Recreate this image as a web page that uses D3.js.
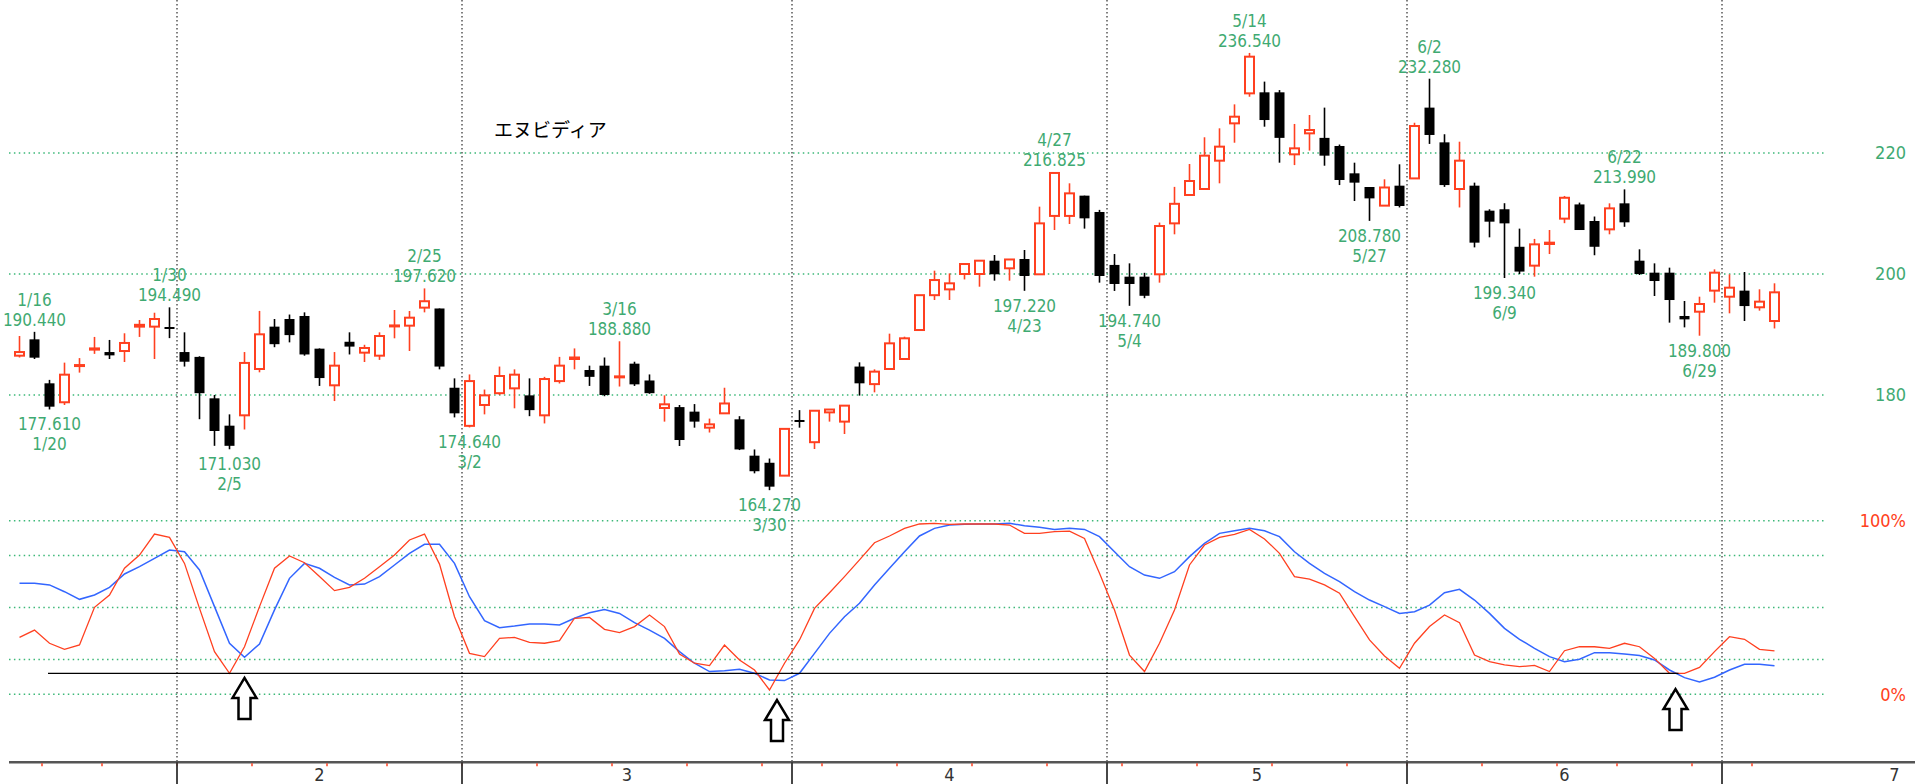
<!DOCTYPE html>
<meta charset="utf-8">
<head>
<script src="https://d3js.org/d3.v7.min.js"></script>
<style>
  body { margin: 0; background: #fff; }
  svg { display: block; }
  text { font-family: "DejaVu Sans Condensed", "DejaVu Sans", sans-serif; }
</style>
</head>
<body>
<div id="my_dataviz"></div>
<script>

// trading days shown (2026)
var dates = [
  "1/15","1/16","1/20","1/21","1/22","1/23","1/26","1/27","1/28","1/29","1/30",
  "2/2","2/3","2/4","2/5","2/6","2/9","2/10","2/11","2/12","2/13","2/17","2/18","2/19","2/20","2/23","2/24","2/25","2/26","2/27",
  "3/2","3/3","3/4","3/5","3/6","3/9","3/10","3/11","3/12","3/13","3/16","3/17","3/18","3/19","3/20","3/23","3/24","3/25","3/26","3/27","3/30","3/31",
  "4/1","4/2","4/6","4/7","4/8","4/9","4/10","4/13","4/14","4/15","4/16","4/17","4/20","4/21","4/22","4/23","4/24","4/27","4/28","4/29","4/30",
  "5/1","5/4","5/5","5/6","5/7","5/8","5/11","5/12","5/13","5/14","5/15","5/18","5/19","5/20","5/21","5/22","5/26","5/27","5/28","5/29",
  "6/1","6/2","6/3","6/4","6/5","6/8","6/9","6/10","6/11","6/12","6/15","6/16","6/17","6/18","6/22","6/23","6/24","6/25","6/26","6/29","6/30",
  "7/1","7/2","7/6","7/7"
];

var open = [
  186.5,189.2,181.93,178.8,184.8,187.5,187.1,187.27,191.3,191.3,191.24,
  187.1,186.3,179.45,174.93,176.64,184.3,191.3,192.56,193.06,187.66,181.6,188.8,187.0,186.5,191.4,191.46,194.44,194.3,181.2,
  174.9,178.35,180.3,181.1,179.94,176.64,182.3,185.95,184.13,184.85,182.97,185.18,182.4,177.85,178.0,177.25,174.6,176.97,175.98,169.97,168.8,166.67,
  175.87,172.2,177.13,175.6,184.7,181.8,184.3,185.95,190.74,196.5,197.46,200.0,200.0,202.2,200.94,202.48,199.95,209.6,209.6,212.95,210.25,
  201.5,199.56,199.56,199.95,208.37,213.06,214.05,218.73,224.9,229.86,230.03,230.03,219.78,223.25,222.5,221.16,216.64,214.38,211.3,214.6,
  215.8,227.5,221.76,214.05,214.6,210.47,210.7,204.5,201.38,204.96,209.15,211.5,208.76,207.38,211.68,202.2,200.22,200.22,193.06,193.77,197.25,
  196.25,197.25,194.5,192.23
];
var high = [
  189.75,190.44,182.5,185.35,186.1,189.6,189.1,190.2,192.4,193.6,194.49,
  190.36,186.4,180.0,176.8,187.1,193.9,192.56,193.3,193.66,187.7,187.1,190.36,188.3,190.36,194.05,193.88,197.62,194.3,182.75,
  183.4,180.9,184.7,184.24,182.75,183.0,186.3,187.7,184.85,186.2,188.88,185.5,183.4,179.94,178.35,178.5,176.1,181.2,176.5,171.0,169.5,174.5,
  177.5,177.4,177.6,178.24,185.4,184.24,190.14,189.64,196.5,200.55,200.1,201.65,202.2,203.14,202.4,203.97,211.13,216.825,214.99,212.95,210.6,
  203.3,201.76,200.2,208.5,214.4,218.18,222.6,224.08,228.04,236.54,231.8,230.4,224.8,226.28,227.5,221.4,218.4,214.38,215.65,218.13,
  225.0,232.28,223.1,221.87,215.1,210.7,211.7,207.5,205.8,207.27,212.9,211.8,209.5,211.68,213.99,204.08,201.76,201.05,195.54,196.25,200.77,
  199.94,200.33,197.47,198.46
];
var low = [
  186.2,185.95,177.61,178.35,183.7,186.8,185.95,185.45,189.6,185.95,189.4,
  184.7,176.0,171.6,171.03,174.3,183.75,187.9,188.7,186.5,181.5,179.0,186.7,185.45,185.8,189.37,187.27,193.66,184.24,176.3,
  174.64,176.8,180.0,177.8,176.5,175.3,181.9,184.24,181.5,179.8,181.4,181.5,180.2,175.6,171.57,174.6,173.8,176.86,170.9,167.05,164.27,166.6,
  174.6,171.07,175.6,173.55,179.9,180.44,184.3,185.8,190.74,195.7,195.7,199.1,197.9,198.9,198.9,197.22,199.9,207.27,208.26,207.5,198.57,
  197.2,194.74,196.0,198.57,206.56,213.06,214.0,214.99,221.7,229.3,224.35,218.4,218.0,220.4,217.9,214.7,212.07,208.78,211.3,211.0,
  215.8,221.5,214.4,211.0,204.4,206.06,199.34,200.0,199.56,203.3,208.4,207.27,203.1,206.56,207.8,199.83,196.36,191.96,191.18,189.8,195.26,
  193.5,192.23,193.94,191.0
];
var close = [
  187.1,186.17,178.07,183.36,184.95,187.7,186.55,188.6,191.6,192.56,191.0,
  185.5,180.3,174.05,171.6,185.3,190.03,188.4,189.9,186.7,182.8,184.85,188.0,187.77,189.75,191.5,192.78,195.5,184.7,176.97,
  182.3,179.94,183.14,183.36,177.5,182.64,184.85,186.2,183.0,180.0,183.08,181.76,180.3,178.46,172.56,175.6,175.15,178.6,171.0,167.4,164.85,174.4,
  175.7,177.4,177.6,178.24,181.93,183.86,188.54,189.37,196.5,199.0,198.46,201.65,202.2,199.95,202.4,199.67,208.37,216.7,213.33,209.2,199.67,
  198.35,198.35,196.4,207.93,211.6,215.37,219.56,221.05,226.0,235.92,225.45,222.5,220.77,223.8,219.56,215.54,215.1,212.5,214.3,211.24,
  224.46,222.98,214.7,218.73,205.18,208.65,208.37,200.4,204.9,205.18,212.6,207.27,204.5,210.85,208.54,200.0,198.84,195.7,192.5,195.04,200.22,
  197.74,194.7,195.43,196.97
];

// stochastics (%)
var stochK = [
  32.8,37.0,29.4,25.9,28.4,50.1,57.2,72.6,80.2,92.3,90.4,
  75.4,49.5,24.6,12.1,27.4,50.5,72.6,79.7,75.8,67.8,59.7,61.6,66.8,73.5,80.2,88.9,92.3,75.0,44.7,
  23.6,21.7,32.2,32.8,29.9,29.4,30.9,43.8,44.3,37.4,35.5,39.0,45.7,39.0,23.2,17.9,16.5,28.4,19.8,14.0,2.5,17.9,
  31.3,49.5,58.5,67.8,77.4,87.3,91.2,95.6,98.1,98.5,97.9,98.1,98.1,98.1,97.5,92.7,92.7,93.7,94.0,89.8,69.7,
  48.6,22.6,13.1,29.4,48.6,74.5,86.0,90.4,92.1,95.0,89.5,81.2,67.8,66.4,63.0,58.2,44.7,31.3,22.1,15.0,
  29.4,39.0,45.7,41.3,22.6,18.8,16.9,15.9,16.7,13.1,25.1,27.4,27.4,26.5,29.4,27.4,20.7,12.1,12.1,15.5,24.6,
  33.2,31.7,25.9,25.0
];
var stochD = [
  63.9,63.9,63.0,59.1,54.7,57.2,61.6,69.3,73.5,78.3,83.1,
  82.1,71.6,50.5,29.4,21.3,29.0,48.6,66.8,75.4,72.6,67.4,63.0,63.5,67.8,74.5,81.2,86.4,86.4,75.4,
  56.2,42.4,38.4,39.3,40.5,40.5,39.9,43.8,47.0,48.9,46.6,41.3,37.0,32.2,24.6,17.9,13.1,13.6,14.4,12.1,8.3,7.9,
  12.1,23.6,35.1,44.7,52.4,63.0,72.6,82.1,91.2,95.6,97.5,97.9,98.1,98.1,98.5,97.1,96.2,95.0,95.6,95.0,90.8,
  82.1,73.5,68.7,66.8,70.6,79.3,86.9,92.7,94.2,95.6,94.2,90.8,82.1,75.4,69.7,64.9,59.1,54.3,50.5,46.6,
  47.6,51.4,58.5,60.5,54.3,46.6,38.0,31.7,26.5,21.7,18.8,20.2,24.0,24.0,23.2,22.3,19.8,14.0,9.6,7.1,9.8,
  14.0,17.3,17.3,16.5
];

var highMarks = [1, 10, 27, 40, 69, 82, 94, 107];
var lowMarks = [2, 14, 30, 50, 67, 74, 90, 99, 112];
var priceTicks = [180, 200, 220];
var oscGrid = [0, 20, 50, 80, 100];
var oscLabels = [0, 100];
var monthNames = ["2", "3", "4", "5", "6", "7"];
var monthDays = [19, 22, 21, 20, 21, 23];
var arrowAt = [15, 50.5, 110.4];
var arrowTop = [9.4, -3.3, 3.0];
var signalLevel = 12.1, signalFrom = 1.9, signalTo = 110.6;
var title = "エヌビディア";

var W = 1915, H = 784;
var green = "#3faa72", gridGreen = "#3cb878", red = "#ff4020", blue = "#3366ff";

var svg = d3.select("#my_dataviz").append("svg")
  .attr("width", W).attr("height", H)
  .style("background", "#fff");

// scales
var x = d3.scaleLinear().domain([0, dates.length - 1]).range([19.5, 19.5 + 15 * (dates.length - 1)]);
var y = d3.scaleLinear().domain([180, 220]).range([395, 153]);
var yo = d3.scaleLinear().domain([0, 100]).range([694.3, 520.7]);
var gridL = 9, gridR = 1826, axisY = 762.3;

// month / week boundaries
var parsed = dates.map(function(d) { var p = d.split("/"); return new Date(2026, +p[0] - 1, +p[1]); });
var monthStarts = [], weekStarts = [];
var wk = function(t) { return d3.timeMonday.floor(t).getTime(); };
parsed.forEach(function(d, i) {
  if (i == 0) return;
  var prev = parsed[i - 1];
  if (d.getMonth() != prev.getMonth()) monthStarts.push(i);
  if (wk(d) != wk(prev)) weekStarts.push(i);
});

// horizontal grid
svg.selectAll(".pgrid").data(priceTicks).enter().append("line")
  .attr("x1", gridL).attr("x2", gridR)
  .attr("y1", function(d) { return y(d); }).attr("y2", function(d) { return y(d); })
  .attr("stroke", gridGreen).attr("stroke-width", 1.5).attr("stroke-dasharray", "1.5,3.4");
svg.selectAll(".ogrid").data(oscGrid).enter().append("line")
  .attr("x1", gridL).attr("x2", gridR)
  .attr("y1", function(d) { return yo(d); }).attr("y2", function(d) { return yo(d); })
  .attr("stroke", gridGreen).attr("stroke-width", 1.5).attr("stroke-dasharray", "1.5,3.4");

// vertical month lines
svg.selectAll(".vgrid").data(monthStarts).enter().append("line")
  .attr("x1", function(d) { return x(d - 0.5); }).attr("x2", function(d) { return x(d - 0.5); })
  .attr("y1", 0).attr("y2", axisY)
  .attr("stroke", "#555").attr("stroke-width", 1.5).attr("stroke-dasharray", "1.5,2.5");

// price labels on the right
svg.selectAll(".plab").data(priceTicks).enter().append("text")
  .attr("x", 1906).attr("y", function(d) { return y(d); })
  .attr("dy", "0.36em").attr("text-anchor", "end")
  .attr("fill", green).style("font-size", "18px")
  .text(function(d) { return d; });
svg.selectAll(".olab").data(oscLabels).enter().append("text")
  .attr("x", 1906).attr("y", function(d) { return yo(d); })
  .attr("dy", "0.36em").attr("text-anchor", "end")
  .attr("fill", red).style("font-size", "18px")
  .text(function(d) { return d + "%"; });

// title
svg.append("text")
  .attr("x", 494).attr("y", 137)
  .style("font-family", "'Noto Sans CJK JP', sans-serif")
  .style("font-size", "19px").attr("fill", "#000")
  .text(title);

// candles
var idx = d3.range(dates.length);
var isUp = function(i) { return close[i] >= open[i]; };
var cg = svg.append("g");
cg.selectAll(".wick").data(idx).enter().append("line")
  .attr("x1", function(i) { return x(i); }).attr("x2", function(i) { return x(i); })
  .attr("y1", function(i) { return y(high[i]); }).attr("y2", function(i) { return y(low[i]); })
  .attr("stroke", function(i) { return isUp(i) ? red : "#000"; })
  .attr("stroke-width", 1.6);
cg.selectAll(".body").data(idx).enter().append("rect")
  .attr("x", function(i) { return x(i) - (isUp(i) ? 4.5 : 5); })
  .attr("width", function(i) { return isUp(i) ? 9 : 10; })
  .attr("y", function(i) { return y(Math.max(open[i], close[i])); })
  .attr("height", function(i) { return Math.max(isUp(i) ? 1 : 2, Math.abs(y(open[i]) - y(close[i]))); })
  .attr("fill", function(i) { return isUp(i) ? "#fff" : "#000"; })
  .attr("stroke", function(i) { return isUp(i) ? red : "none"; })
  .attr("stroke-width", 2);

// high / low annotations (date + price, stacked)
var fmt = d3.format(".3f");
function label(xp, yb, str) {
  svg.append("text").attr("x", xp).attr("y", yb)
    .attr("text-anchor", "middle").attr("fill", green)
    .style("font-size", "17px").text(str);
}
highMarks.forEach(function(i) {
  label(x(i), y(high[i]) - 6, fmt(high[i]));
  label(x(i), y(high[i]) - 26, dates[i]);
});
lowMarks.forEach(function(i) {
  label(x(i), y(low[i]) + 21, fmt(low[i]));
  label(x(i), y(low[i]) + 41, dates[i]);
});

// oscillator
var line = d3.line().x(function(d, i) { return x(i); }).y(function(d) { return yo(d); });
svg.append("path").datum(stochD).attr("d", line)
  .attr("fill", "none").attr("stroke", blue).attr("stroke-width", 1.5);
svg.append("path").datum(stochK).attr("d", line)
  .attr("fill", "none").attr("stroke", red).attr("stroke-width", 1.3);

svg.append("line")
  .attr("x1", x(signalFrom)).attr("x2", x(signalTo))
  .attr("y1", yo(signalLevel)).attr("y2", yo(signalLevel))
  .attr("stroke", "#000").attr("stroke-width", 1.3);

// arrows
svg.selectAll(".arrow").data(arrowAt).enter().append("path")
  .attr("transform", function(d, k) { return "translate(" + x(d) + "," + yo(arrowTop[k]) + ")"; })
  .attr("d", "M0,0 L12,20 L6,20 L6,41 L-6,41 L-6,20 L-12,20 Z")
  .attr("fill", "#fff").attr("stroke", "#000").attr("stroke-width", 2.5)
  .attr("stroke-linejoin", "miter");

// time axis
svg.append("line").attr("x1", gridL).attr("x2", W)
  .attr("y1", axisY).attr("y2", axisY)
  .attr("stroke", "#555").attr("stroke-width", 2.5);
svg.selectAll(".wtick").data(weekStarts).enter().append("line")
  .attr("x1", function(d) { return x(d - 0.5); }).attr("x2", function(d) { return x(d - 0.5); })
  .attr("y1", axisY + 1).attr("y2", axisY + 4)
  .attr("stroke", red).attr("stroke-width", 1.5);
svg.selectAll(".mtick").data(monthStarts).enter().append("line")
  .attr("x1", function(d) { return x(d - 0.5); }).attr("x2", function(d) { return x(d - 0.5); })
  .attr("y1", axisY).attr("y2", H)
  .attr("stroke", "#333").attr("stroke-width", 1.8);
svg.selectAll(".mlab").data(monthNames).enter().append("text")
  .attr("x", function(d, k) { return x(monthStarts[k] - 0.5 + monthDays[k] / 2); })
  .attr("y", 781).attr("text-anchor", "middle")
  .attr("fill", "#333").style("font-size", "18px")
  .text(function(d) { return d; });

</script>
</body>
